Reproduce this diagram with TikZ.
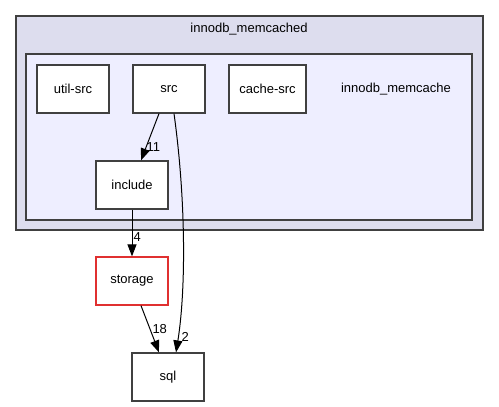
\documentclass[tikz,border=0pt]{standalone}
\usepackage{fontspec}
\setmainfont{Liberation Sans}
\usetikzlibrary{arrows.meta}
\definecolor{outerfill}{HTML}{DDDDEE}
\definecolor{innerfill}{HTML}{EEEEFF}
\definecolor{frame}{HTML}{404040}
\definecolor{redframe}{HTML}{E03030}
\begin{document}
\begin{tikzpicture}[x=1pt,y=-1pt,
  every node/.style={font=\fontsize{13}{15}\selectfont},
  dirbox/.style={draw=frame,fill=white,line width=1.2pt,minimum width=72pt,minimum height=48pt,inner sep=0pt},
  cluster/.style={draw=frame,line width=1.2pt},
  dep/.style={line width=1pt,-{Triangle[length=12pt,width=9pt]}},
  lbl/.style={inner sep=1pt,font=\fontsize{13}{15}\selectfont}]
\useasboundingbox (0,0) rectangle (499,407);
\draw[cluster,fill=outerfill] (16,16) rectangle (483,230);
\node (outerlabel) at (249,29) {innodb\_memcached};
\draw[cluster,fill=innerfill] (26,54) rectangle (472,220);
\node (innerlabel) at (396,89) {innodb\_memcache};
\node[dirbox] (utilsrc) at (73,89) {util-src};
\node[dirbox] (src) at (169,89) {src};
\node[dirbox,minimum width=77pt] (cachesrc) at (267.5,89) {cache-src};
\node[dirbox] (include) at (132,185) {include};
\node[dirbox,draw=redframe] (storage) at (132,281) {storage};
\node[dirbox] (sql) at (168,377) {sql};
\draw[dep] ([xshift=-10pt]src.south) -- ([xshift=9pt]include.north) node[lbl,pos=0.72,right,xshift=-1pt] {11};
\draw[dep] ([xshift=5pt]src.south) .. controls (186,200) and (186,290) .. ([xshift=8pt]sql.north) node[lbl,pos=0.92,right,xshift=2pt] {2};
\draw[dep] (include.south) -- (storage.north) node[lbl,pos=0.58,right] {4};
\draw[dep] ([xshift=9pt]storage.south) -- ([xshift=-9pt]sql.north) node[lbl,pos=0.5,right,xshift=1pt] {18};
\end{tikzpicture}
\end{document}
